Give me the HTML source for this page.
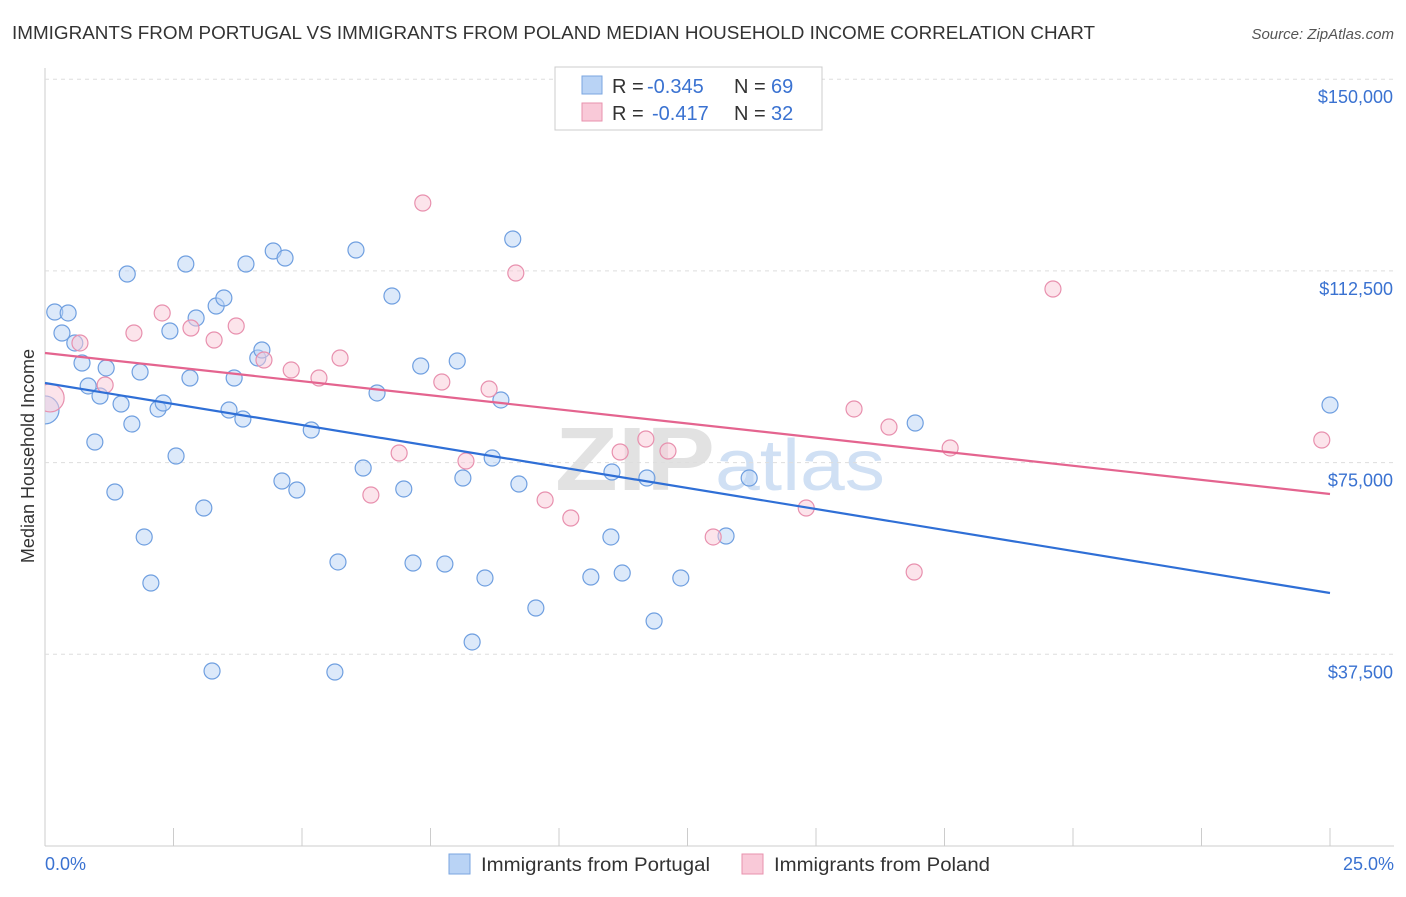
<!DOCTYPE html>
<html><head><meta charset="utf-8"><style>
body{margin:0;background:#fff;font-family:"Liberation Sans",sans-serif;}
svg text{font-family:"Liberation Sans",sans-serif;}
</style></head><body>
<svg id="c" width="1406" height="892">
<text x="12" y="39" font-size="18" fill="#333" textLength="1083" lengthAdjust="spacingAndGlyphs">IMMIGRANTS FROM PORTUGAL VS IMMIGRANTS FROM POLAND MEDIAN HOUSEHOLD INCOME CORRELATION CHART</text>
<text x="1394" y="39" font-size="15" fill="#555" text-anchor="end" font-style="italic">Source: ZipAtlas.com</text>
<text transform="translate(34,456) rotate(-90)" font-size="18" fill="#333" text-anchor="middle">Median Household Income</text>
<text x="555" y="490" font-size="90" font-weight="bold" fill="#e2e2e2" textLength="160" lengthAdjust="spacingAndGlyphs" font-family="Liberation Serif">ZIP</text>
<text x="715" y="490" font-size="72" fill="#d0e0f4" textLength="170" lengthAdjust="spacingAndGlyphs">atlas</text>
<g id="grid"></g><g id="pts"></g><g id="lines"></g>
<g>
<rect x="555" y="67" width="267" height="63" fill="#fff" stroke="#ccc"/>
<rect x="582" y="76" width="20" height="18" fill="#b9d3f5" stroke="#7aa6e0"/>
<rect x="582" y="103" width="20" height="18" fill="#f9c9d8" stroke="#e892ae"/>
<text x="612" y="93" font-size="20" fill="#333">R =</text><text x="647" y="93" font-size="20" fill="#3a72d1">-0.345</text>
<text x="734" y="93" font-size="20" fill="#333">N =</text><text x="771" y="93" font-size="20" fill="#3a72d1">69</text>
<text x="612" y="120" font-size="20" fill="#333">R =</text><text x="652" y="120" font-size="20" fill="#3a72d1">-0.417</text>
<text x="734" y="120" font-size="20" fill="#333">N =</text><text x="771" y="120" font-size="20" fill="#3a72d1">32</text>
</g>
<g>
<rect x="449" y="854" width="21" height="20" fill="#b9d3f5" stroke="#7aa6e0"/>
<text x="481" y="871" font-size="19" fill="#333" textLength="229" lengthAdjust="spacingAndGlyphs">Immigrants from Portugal</text>
<rect x="742" y="854" width="21" height="20" fill="#f9c9d8" stroke="#e892ae"/>
<text x="774" y="871" font-size="19" fill="#333" textLength="216" lengthAdjust="spacingAndGlyphs">Immigrants from Poland</text>
</g>
</svg>
<script>
const yTicks=[37500,75000,112500,150000];
const yTickLabels=["$37,500","$75,000","$112,500","$150,000"];
const xTickLabels=["0.0%","25.0%"];
const blueX=[0,0.19,0.45,0.33,0.58,0.72,0.84,1.07,1.19,0.97,1.36,1.48,1.60,1.69,1.85,1.93,2.06,2.20,2.30,2.43,2.55,2.74,2.82,2.94,3.09,3.25,3.33,3.48,3.58,3.68,3.85,3.91,4.14,4.22,4.44,4.67,4.61,4.90,5.18,5.64,5.70,6.05,6.19,6.46,6.75,6.98,7.16,7.31,7.78,8.02,8.13,8.31,8.56,8.70,8.87,9.10,9.22,9.55,10.62,11.01,11.03,11.23,11.71,11.85,12.37,13.25,13.70,16.93,25.0];
const blueY=[85300,104460,104270,100350,98400,94480,89990,88030,93510,79030,69250,86460,111890,82550,92720,60450,51450,85490,86660,100740,76290,113850,91550,103290,66120,34230,105630,107200,85290,91550,83530,113850,95460,97030,116390,115020,71400,69640,81380,34040,55560,116590,73940,88620,107590,69840,55360,93900,55160,94880,71990,39910,52430,75900,87250,118740,70810,46560,52620,60450,73160,53400,71990,44010,52430,60640,71990,82750,86270];
const pinkX=[0.1,0.68,1.17,1.73,2.28,2.84,3.29,3.72,4.26,4.79,5.33,5.74,6.34,6.89,7.35,7.72,8.19,8.64,9.16,9.73,10.23,11.19,11.69,12.12,13.00,14.81,15.74,16.42,16.91,17.61,19.61,24.84];
const pinkY=[87650,98400,90180,100350,104270,101330,98980,101720,95070,93110,91550,95460,68660,76880,125780,90770,75310,89400,112090,67690,64160,77070,79620,77270,60450,66120,85490,81960,53600,77860,108960,79420];
const blueTrend=[90570,49490];
const pinkTrend=[96440,68860];
const X=v=>45+v/25*1285, Y=v=>846-v/37500*191.7;
const NS='http://www.w3.org/2000/svg';
function mk(t,a,p){const e=document.createElementNS(NS,t);for(const k in a)e.setAttribute(k,a[k]);p.appendChild(e);return e;}
const g=document.getElementById('grid');
mk('line',{x1:45,y1:68,x2:45,y2:846,stroke:'#ccc'},g);
mk('line',{x1:45,y1:846,x2:1394,y2:846,stroke:'#ccc'},g);
yTicks.forEach((t,i)=>{const l=mk('line',{x1:45,y1:Y(t),x2:1394,y2:Y(t),stroke:'#ddd','stroke-dasharray':'4,4'},g);

const tx=mk('text',{x:1393,y:Y(t)+24,'font-size':18,fill:'#3a72d1','text-anchor':'end'},g);tx.textContent=yTickLabels[i];
});
for(let i=1;i<=10;i++){const t=mk('line',{x1:X(i*2.5),y1:828,x2:X(i*2.5),y2:846,stroke:'#ccc'},g);
}
[[0,'start',45],[1,'end',1394]].forEach(([i,a,x])=>{const t=mk('text',{x:x,y:870,'font-size':18,fill:'#3a72d1','text-anchor':a},g);t.textContent=xTickLabels[i];
});
const p=document.getElementById('pts');
const clip=mk('clipPath',{id:'pc'},p);mk('rect',{x:45,y:60,width:1360,height:786},clip);
function dots(xs,ys,fill,st,name){xs.forEach((x,i)=>{const c=mk('circle',{cx:X(x),cy:Y(ys[i]),r:i==0?14:8,fill:fill,'fill-opacity':0.5,stroke:st,'stroke-width':1.2,'clip-path':'url(#pc)'},p);
});}
dots(blueX,blueY,'#b9d3f5','#6f9fe0','portugal-point');
dots(pinkX,pinkY,'#f9c9d8','#e890ae','poland-point');
const L=document.getElementById('lines');
const b=mk('line',{x1:X(0),y1:Y(blueTrend[0]),x2:X(25),y2:Y(blueTrend[1]),stroke:'#2f6fd6','stroke-width':2.2},L);

const q=mk('line',{x1:X(0),y1:Y(pinkTrend[0]),x2:X(25),y2:Y(pinkTrend[1]),stroke:'#e4648f','stroke-width':2.2},L);

</script>
</body></html>
